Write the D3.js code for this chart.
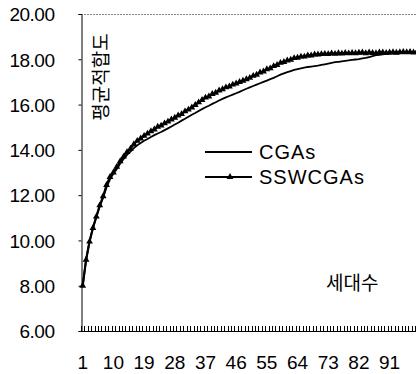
<!DOCTYPE html>
<html>
<head>
<meta charset="utf-8">
<script src="https://cdn.jsdelivr.net/npm/d3@7"></script>
<style>
  body { margin: 0; background: #fff; }
  svg { display: block; }
</style>
</head>
<body>
<svg width="416" height="374"></svg>
<script>
// generations 1..100
var generations = d3.range(1, 101)

var cgas = [
    8.00, 9.15, 9.95, 10.55, 11.05, 11.50, 11.90, 12.35, 12.70, 12.95,
    13.15, 13.40, 13.60, 13.78, 13.92, 14.08, 14.20, 14.30, 14.40, 14.48,
    14.57, 14.65, 14.72, 14.79, 14.87, 14.95, 15.03, 15.12, 15.20, 15.29,
    15.37, 15.46, 15.55, 15.63, 15.72, 15.80, 15.88, 15.95, 16.03, 16.10,
    16.18, 16.25, 16.32, 16.38, 16.44, 16.50, 16.56, 16.63, 16.70, 16.76,
    16.82, 16.88, 16.94, 17.00, 17.06, 17.12, 17.18, 17.25, 17.32, 17.38,
    17.43, 17.48, 17.53, 17.57, 17.60, 17.63, 17.66, 17.68, 17.70, 17.72,
    17.75, 17.78, 17.81, 17.84, 17.87, 17.89, 17.91, 17.93, 17.95, 17.97,
    17.99, 18.01, 18.04, 18.06, 18.10, 18.14, 18.18, 18.20, 18.22, 18.24,
    18.25, 18.26, 18.26, 18.27, 18.28, 18.28, 18.29, 18.30, 18.30, 18.31
]

var sswcgas = [
    8.00, 9.15, 9.95, 10.55, 11.05, 11.55, 11.95, 12.45, 12.80, 13.00,
    13.25, 13.50, 13.70, 13.90, 14.05, 14.25, 14.40, 14.50, 14.62, 14.72,
    14.82, 14.90, 15.02, 15.07, 15.17, 15.25, 15.34, 15.42, 15.52, 15.58,
    15.70, 15.78, 15.87, 15.98, 16.10, 16.20, 16.31, 16.36, 16.47, 16.52,
    16.62, 16.68, 16.76, 16.80, 16.88, 16.93, 17.00, 17.05, 17.12, 17.18,
    17.27, 17.32, 17.42, 17.46, 17.56, 17.60, 17.70, 17.75, 17.84, 17.88,
    17.95, 17.98, 18.05, 18.07, 18.12, 18.12, 18.17, 18.17, 18.21, 18.21,
    18.23, 18.24, 18.23, 18.26, 18.24, 18.27, 18.25, 18.28, 18.26, 18.28,
    18.27, 18.29, 18.30, 18.27, 18.30, 18.28, 18.27, 18.30, 18.30, 18.28,
    18.30, 18.31, 18.29, 18.31, 18.32, 18.31, 18.33, 18.30, 18.33, 18.31
]

var yTicks = [6, 8, 10, 12, 14, 16, 18, 20]
var xLabels = [1, 10, 19, 28, 37, 46, 55, 64, 73, 82, 91]

var svg = d3.select('svg')
var plot = { left: 81, right: 422, top: 14, bottom: 331 }

var xScale = d3.scaleBand()
               .domain(generations)
               .range([plot.left, plot.right])
var yScale = d3.scaleLinear()
               .domain([6, 20])
               .range([plot.bottom, plot.top])

var cx = function (g) { return xScale(g) + xScale.bandwidth() / 2 }

// top border (dotted grey)
svg.append('line')
   .attr('x1', plot.left).attr('x2', 416)
   .attr('y1', plot.top + 0.5).attr('y2', plot.top + 0.5)
   .attr('stroke', '#888')
   .attr('stroke-dasharray', '2,1')

// y axis
var yAxis = d3.axisLeft(yScale)
              .tickValues(yTicks)
              .tickSize(3)
              .tickFormat(d3.format('.2f'))
var gy = svg.append('g')
            .attr('transform', 'translate(' + (plot.left + 0.5) + ',0)')
            .call(yAxis)
gy.select('.domain').attr('stroke', '#000')
gy.selectAll('text')
  .attr('x', -27)
  .attr('dy', '0.36em')
  .style('font-family', '"Liberation Sans", Arial, sans-serif')
  .style('font-size', '19px')
  .style('letter-spacing', '-0.5px')
  .attr('fill', '#000')

// x axis: ticks at every category boundary, pointing up
svg.append('line')
   .attr('x1', plot.left).attr('x2', 416)
   .attr('y1', plot.bottom + 0.5).attr('y2', plot.bottom + 0.5)
   .attr('stroke', '#000')
svg.append('g')
   .selectAll('line')
   .data(generations)
   .enter()
   .append('line')
   .attr('x1', function (d) { return Math.round(xScale(d)) + 0.5 })
   .attr('x2', function (d) { return Math.round(xScale(d)) + 0.5 })
   .attr('y1', plot.bottom)
   .attr('y2', plot.bottom - 5)
   .attr('stroke', '#000')
   .attr('stroke-width', 1)

svg.append('g')
   .selectAll('text')
   .data(xLabels)
   .enter()
   .append('text')
   .attr('x', function (d) { return cx(d) })
   .attr('y', 369)
   .attr('text-anchor', 'middle')
   .style('font-family', '"Liberation Sans", Arial, sans-serif')
   .style('font-size', '19px')
   .text(function (d) { return d })

// lines
var line = function (values) {
    return d3.line()
             .x(function (d, i) { return cx(generations[i]) })
             .y(function (d) { return yScale(d) })(values)
}

svg.append('path')
   .attr('d', line(cgas))
   .attr('fill', 'none')
   .attr('stroke', '#000')
   .attr('stroke-width', 1.8)

svg.append('path')
   .attr('d', line(sswcgas))
   .attr('fill', 'none')
   .attr('stroke', '#000')
   .attr('stroke-width', 2.2)

var tri = d3.symbol().type(d3.symbolTriangle).size(20)
svg.append('g')
   .selectAll('path')
   .data(sswcgas)
   .enter()
   .append('path')
   .attr('d', tri)
   .attr('transform', function (d, i) {
       return 'translate(' + cx(generations[i]) + ',' + yScale(d) + ')'
   })
   .attr('fill', '#000')

// y title, rotated
svg.append('text')
   .attr('transform', 'translate(108,77) rotate(-90)')
   .attr('text-anchor', 'middle')
   .style('font-family', '"Noto Sans CJK KR", sans-serif')
   .style('font-size', '19px')
   .text('평균적합도')

// x title
svg.append('text')
   .attr('x', 326)
   .attr('y', 290)
   .style('font-family', '"Noto Sans CJK KR", sans-serif')
   .style('font-size', '19px')
   .text('세대수')

// legend
var legend = svg.append('g')
var items = [
    { name: 'CGAs', y: 152, marker: false },
    { name: 'SSWCGAs', y: 177, marker: true }
]
legend.selectAll('line')
      .data(items)
      .enter()
      .append('line')
      .attr('x1', 205).attr('x2', 252)
      .attr('y1', function (d) { return d.y })
      .attr('y2', function (d) { return d.y })
      .attr('stroke', '#000')
      .attr('stroke-width', 1.8)
legend.selectAll('path')
      .data(items.filter(function (d) { return d.marker }))
      .enter()
      .append('path')
      .attr('d', tri)
      .attr('transform', function (d) { return 'translate(230,' + d.y + ')' })
legend.selectAll('text')
      .data(items)
      .enter()
      .append('text')
      .attr('x', 259)
      .attr('y', function (d) { return d.y + 7 })
      .style('font-family', '"Liberation Sans", Arial, sans-serif')
      .style('font-size', '20px')
      .style('letter-spacing', '1px')
      .text(function (d) { return d.name })
</script>
</body>
</html>
